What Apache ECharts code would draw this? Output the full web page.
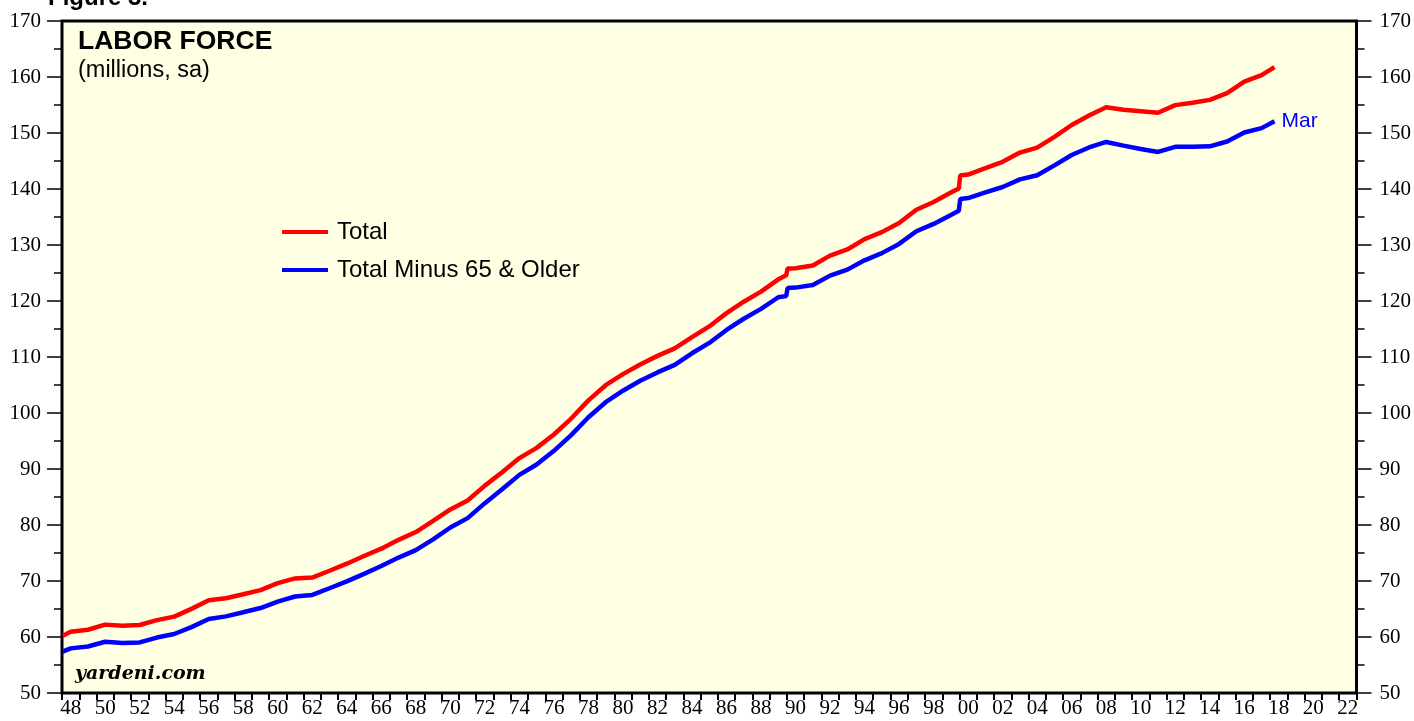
<!DOCTYPE html>
<html>
<head>
<meta charset="utf-8">
<title>Labor Force</title>
<script src="https://cdn.jsdelivr.net/npm/echarts@6/dist/echarts.min.js"></script>
<style>
html, body { margin: 0; padding: 0; background: #fff; }
#chart { width: 1414px; height: 721px; }
</style>
</head>
<body>
<div id="chart"></div>
<script>
// x positions (year fractions): annual averages at mid-year, plus a few monthly breaks
const xYears = [
  1948.04,
  1948.5, 1949.5, 1950.5, 1951.5, 1952.5, 1953.5, 1954.5, 1955.5, 1956.5, 1957.5,
  1958.5, 1959.5, 1960.5, 1961.5, 1962.5, 1963.5, 1964.5, 1965.5, 1966.5, 1967.5,
  1968.5, 1969.5, 1970.5, 1971.5, 1972.5, 1973.5, 1974.5, 1975.5, 1976.5, 1977.5,
  1978.5, 1979.5, 1980.5, 1981.5, 1982.5, 1983.5, 1984.5, 1985.5, 1986.5, 1987.5,
  1988.5, 1989.5,
  1989.96, 1990.04,
  1990.5, 1991.5, 1992.5, 1993.5, 1994.5, 1995.5, 1996.5, 1997.5, 1998.5, 1999.5,
  1999.96, 2000.04,
  2000.5, 2001.5, 2002.5, 2003.5, 2004.5, 2005.5, 2006.5, 2007.5, 2008.5, 2009.5,
  2010.5, 2011.5, 2012.5, 2013.5, 2014.5, 2015.5, 2016.5, 2017.5,
  2018.25
]

// Total labor force, millions
const totalValues = [
  60.2,
  60.94, 61.29, 62.21, 62.02, 62.14, 63.02, 63.64, 65.02, 66.55, 66.93,
  67.64, 68.37, 69.63, 70.46, 70.61, 71.83, 73.09, 74.46, 75.77, 77.35,
  78.74, 80.73, 82.77, 84.38, 87.03, 89.43, 91.95, 93.77, 96.16, 99.01,
  102.25, 104.96, 106.94, 108.67, 110.20, 111.55, 113.54, 115.46, 117.83, 119.87,
  121.67, 123.87,
  124.6, 125.8,
  125.84, 126.35, 128.11, 129.20, 131.06, 132.30, 133.94, 136.30, 137.67, 139.37,
  140.1, 142.4,
  142.58, 143.73, 144.86, 146.51, 147.40, 149.32, 151.43, 153.12, 154.6, 154.14,
  153.89, 153.62, 154.98, 155.39, 155.92, 157.13, 159.19, 160.32,
  161.76
]

// Total minus 65 & older, millions
const minus65Values = [
  57.4,
  57.97, 58.31, 59.15, 58.95, 59.04, 59.90, 60.54, 61.77, 63.20, 63.68,
  64.42, 65.17, 66.33, 67.23, 67.51, 68.71, 69.94, 71.27, 72.67, 74.18,
  75.52, 77.43, 79.55, 81.23, 83.90, 86.38, 88.95, 90.81, 93.24, 96.04,
  99.25, 101.93, 103.98, 105.75, 107.25, 108.60, 110.66, 112.51, 114.83, 116.83,
  118.59, 120.67,
  120.9, 122.3,
  122.39, 122.87, 124.53, 125.60, 127.26, 128.55, 130.19, 132.45, 133.77, 135.37,
  136.1, 138.2,
  138.38, 139.38, 140.36, 141.71, 142.45, 144.22, 146.08, 147.42, 148.4, 147.74,
  147.14, 146.62, 147.53, 147.54, 147.62, 148.48, 150.09, 150.87,
  152.11
]

const xTickLabels = ['48', '50', '52', '54', '56', '58', '60', '62', '64', '66', '68', '70', '72',
  '74', '76', '78', '80', '82', '84', '86', '88', '90', '92', '94', '96', '98', '00', '02', '04',
  '06', '08', '10', '12', '14', '16', '18', '20', '22']

const seriesNames = ['Total', 'Total Minus 65 & Older']

// labels sit in the middle of their year, ticks on year boundaries
const labelPositions = xTickLabels.map((_, i) => 1948.5 + i * 2)
const yearTicks = []
for (let y = 1948; y <= 2023; y++) yearTicks.push(y)

const toPairs = (vals) => vals.map((v, i) => [xYears[i], v])

const serif = 'Liberation Serif'
const sans = 'Liberation Sans'

const yAxisBase = {
  type: 'value',
  min: 50,
  max: 170,
  interval: 10,
  axisLine: { show: false },
  axisTick: { show: true, length: 15, lineStyle: { color: '#000', width: 1.5 } },
  minorTick: { show: true, splitNumber: 2, length: 8, lineStyle: { color: '#000', width: 1.5 } },
  splitLine: { show: false },
  axisLabel: { color: '#000', fontFamily: serif, fontSize: 21 }
}

const chart = echarts.init(document.getElementById('chart'))

const option = {
  animation: false,
  backgroundColor: '#fff',
  grid: {
    left: 62,
    right: 56,
    top: 21,
    bottom: 28,
    show: true,
    backgroundColor: '#FFFFE3',
    borderColor: '#000',
    borderWidth: 3
  },
  legend: {
    data: seriesNames,
    orient: 'vertical',
    left: 277,
    top: 215,
    itemGap: 14,
    icon: 'rect',
    itemWidth: 46,
    itemHeight: 4,
    textStyle: { color: '#000', fontFamily: sans, fontSize: 24, padding: [0, 0, 0, 4] }
  },
  xAxis: {
    type: 'value',
    min: 1948,
    max: 2023,
    axisLine: { show: false },
    splitLine: { show: false },
    axisTick: {
      show: true,
      customValues: yearTicks,
      length: 7,
      lineStyle: { color: '#000', width: 2 }
    },
    axisLabel: {
      customValues: labelPositions,
      formatter: (v) => xTickLabels[Math.round((v - 1948.5) / 2)],
      margin: 5,
      color: '#000',
      fontFamily: serif,
      fontSize: 21
    }
  },
  yAxis: [
    Object.assign({}, yAxisBase, {
      position: 'left',
      axisLabel: Object.assign({}, yAxisBase.axisLabel, { margin: 21 })
    }),
    Object.assign({}, yAxisBase, {
      position: 'right',
      axisLabel: Object.assign({}, yAxisBase.axisLabel, { margin: 23 })
    })
  ],
  graphic: [
    {
      type: 'text', left: 48, top: -14,
      style: { text: 'Figure 3.', font: 'bold 24px "Liberation Sans"', fill: '#000' }
    },
    {
      type: 'text', left: 78, top: 28,
      style: { text: 'LABOR FORCE', font: 'bold 26.5px "Liberation Sans"', fill: '#000' }
    },
    {
      type: 'text', left: 78, top: 59,
      style: { text: '(millions, sa)', font: '23.5px "Liberation Sans"', fill: '#000' }
    },
    {
      type: 'text', left: 75, top: 665,
      style: { text: 'yardeni.com', font: 'italic bold 19px "DejaVu Serif"', fill: '#000' }
    }
  ],
  series: [
    {
      name: seriesNames[0],
      type: 'line',
      data: toPairs(totalValues),
      showSymbol: false,
      symbol: 'none',
      color: '#FF0000',
      lineStyle: { color: '#FF0000', width: 4.5 }
    },
    {
      name: seriesNames[1],
      type: 'line',
      data: toPairs(minus65Values),
      showSymbol: false,
      symbol: 'none',
      color: '#0000FF',
      lineStyle: { color: '#0000FF', width: 4.5 },
      endLabel: {
        show: true,
        formatter: 'Mar',
        distance: 7,
        color: '#0000FF',
        fontFamily: sans,
        fontSize: 21
      }
    }
  ]
}

chart.setOption(option)
</script>
</body>
</html>
